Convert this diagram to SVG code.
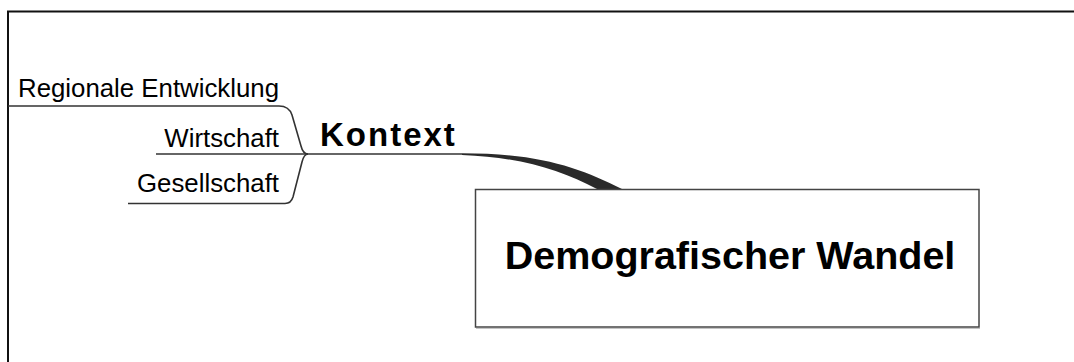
<svg xmlns="http://www.w3.org/2000/svg" width="1074" height="362" viewBox="0 0 1074 362">
<style>
.leaf{font-family:"Liberation Sans",Arial,sans-serif;font-size:25.8px;fill:#000;text-anchor:end}
.ln{fill:none;stroke:#333;stroke-width:1.6}
.kt{font-family:"Liberation Sans",Arial,sans-serif;font-size:33px;font-weight:bold;letter-spacing:2px;fill:#000}
.ct{font-family:"Liberation Sans",Arial,sans-serif;font-size:39.5px;font-weight:bold;fill:#000;text-anchor:middle}
</style>
<rect width="1074" height="362" fill="#fff"/>
<g id="frame">
<path d="M8,362 V11.5 H1074" fill="none" stroke="#111" stroke-width="2"/>
</g>
<g id="connectors">
<path class="ln" d="M156,154 H462"/>
<path class="ln" d="M8,106 H279 Q289,106 292,115 L301,146 Q303,154 308,154"/>
<path class="ln" d="M128,203.5 H285 Q291,203.5 293,197 L302,162 Q304,154 308,154"/>
<path d="M462,153.3 C540,153.3 580,168 622,189 L597,189 C560,170 520,157 462,155 Z" fill="#2a2a2a"/>
</g>
<g id="node-central">
<line x1="476" y1="328.5" x2="980" y2="328.5" stroke="#c4c4c4" stroke-width="1"/>
<rect x="475.5" y="189.5" width="503.5" height="137.5" fill="#fff" stroke="#444" stroke-width="1.5"/>
<text class="ct" x="730" y="269">Demografischer Wandel</text>
</g>
<g id="node-kontext">
<text class="kt" x="320" y="145.5">Kontext</text>
</g>
<g id="node-regionale">
<text class="leaf" x="279" y="97">Regionale Entwicklung</text>
</g>
<g id="node-wirtschaft">
<text class="leaf" x="279" y="147">Wirtschaft</text>
</g>
<g id="node-gesellschaft">
<text class="leaf" x="279" y="192">Gesellschaft</text>
</g>
</svg>
